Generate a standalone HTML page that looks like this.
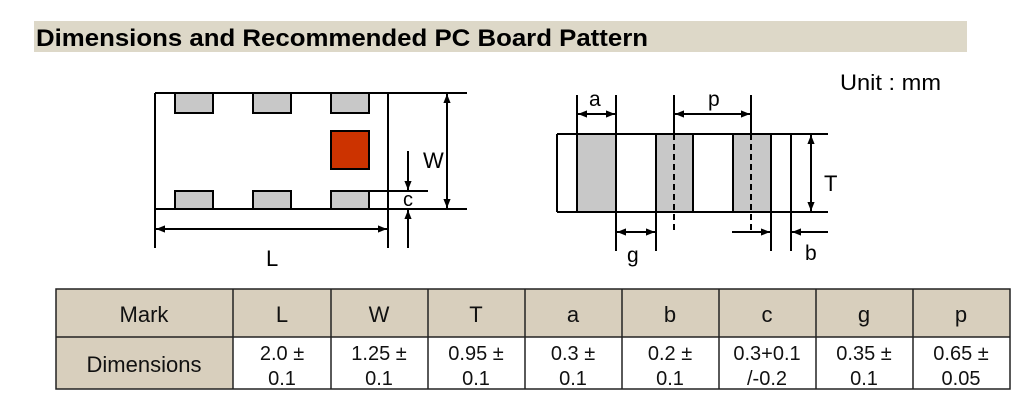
<!DOCTYPE html>
<html><head><meta charset="utf-8"><style>
body{margin:0;background:#fff;width:1024px;height:401px;overflow:hidden}
</style></head><body>
<svg width="1024" height="401" viewBox="0 0 1024 401" xmlns="http://www.w3.org/2000/svg" font-family="Liberation Sans, sans-serif">
<defs>
<marker id="ah" viewBox="0 0 10 10" refX="10" refY="5" markerWidth="9" markerHeight="9" orient="auto-start-reverse" markerUnits="userSpaceOnUse"><path d="M0,1 L10,5 L0,9 z" fill="#000"/></marker>
</defs>
<rect x="34" y="21" width="933" height="31" fill="#ddd8c8"/>
<text x="36" y="46" font-size="24" font-weight="bold" textLength="612" lengthAdjust="spacingAndGlyphs">Dimensions and Recommended PC Board Pattern</text>
<text x="840" y="90" font-size="22" textLength="101" lengthAdjust="spacingAndGlyphs">Unit : mm</text>
<g stroke="#000" stroke-width="2" fill="none">
<line x1="155" y1="93" x2="467" y2="93"/>
<line x1="155" y1="209" x2="467" y2="209"/>
<line x1="155" y1="93" x2="155" y2="248"/>
<line x1="388" y1="93" x2="388" y2="248"/>
<g fill="#c8c8c8">
<rect x="175" y="93" width="38" height="20"/><rect x="253" y="93" width="38" height="20"/><rect x="331" y="93" width="38" height="20"/>
<rect x="175" y="191" width="38" height="18"/><rect x="253" y="191" width="38" height="18"/><rect x="331" y="191" width="38" height="18"/>
</g>
<rect x="331" y="131" width="38" height="38" fill="#cc3300"/>
<line x1="369" y1="191" x2="428" y2="191"/>
<line x1="408" y1="151" x2="408" y2="190" marker-end="url(#ah)"/>
<line x1="408" y1="248" x2="408" y2="210" marker-end="url(#ah)"/>
<line x1="447" y1="94" x2="447" y2="208" marker-start="url(#ah)" marker-end="url(#ah)"/>
<line x1="156" y1="229" x2="387" y2="229" marker-start="url(#ah)" marker-end="url(#ah)"/>
</g>
<text x="423" y="168" font-size="22">W</text>
<text x="403" y="206" font-size="20">c</text>
<text x="266" y="266" font-size="22">L</text>
<g stroke="#000" stroke-width="2" fill="none">
<line x1="557" y1="134" x2="828" y2="134"/>
<line x1="557" y1="212" x2="828" y2="212"/>
<line x1="557" y1="134" x2="557" y2="212"/>
<g fill="#c8c8c8">
<rect x="577" y="134" width="39" height="78"/>
<rect x="656" y="134" width="37" height="78"/>
<rect x="733" y="134" width="38" height="78"/>
</g>
<line x1="577" y1="95" x2="577" y2="134"/>
<line x1="616" y1="95" x2="616" y2="251"/>
<line x1="656" y1="212" x2="656" y2="251"/>
<line x1="771" y1="212" x2="771" y2="251"/>
<line x1="791" y1="134" x2="791" y2="251"/>
<line x1="674" y1="95" x2="674" y2="134"/>
<line x1="751" y1="95" x2="751" y2="134"/>
<line x1="674" y1="134" x2="674" y2="232" stroke-dasharray="6,4"/>
<line x1="751" y1="134" x2="751" y2="232" stroke-dasharray="6,4"/>
<line x1="578" y1="114" x2="615" y2="114" marker-start="url(#ah)" marker-end="url(#ah)"/>
<line x1="675" y1="114" x2="750" y2="114" marker-start="url(#ah)" marker-end="url(#ah)"/>
<line x1="617" y1="232" x2="655" y2="232" marker-start="url(#ah)" marker-end="url(#ah)"/>
<line x1="732" y1="232" x2="770" y2="232" marker-end="url(#ah)"/>
<line x1="828" y1="232" x2="792" y2="232" marker-end="url(#ah)"/>
<line x1="811" y1="135" x2="811" y2="211" marker-start="url(#ah)" marker-end="url(#ah)"/>
</g>
<text x="589" y="106" font-size="21">a</text>
<text x="708" y="106" font-size="21">p</text>
<text x="627" y="262" font-size="21">g</text>
<text x="805" y="260" font-size="21">b</text>
<text x="824" y="191" font-size="22">T</text>
<rect x="56" y="289" width="954" height="48" fill="#d8cfbd"/>
<rect x="56" y="337" width="177" height="52" fill="#d8cfbd"/>
<g stroke="#222" stroke-width="1.5" fill="none">
<rect x="56" y="289" width="954" height="100"/>
<line x1="56" y1="337" x2="1010" y2="337"/>
<line x1="233" y1="289" x2="233" y2="389"/><line x1="331" y1="289" x2="331" y2="389"/>
<line x1="428" y1="289" x2="428" y2="389"/><line x1="525" y1="289" x2="525" y2="389"/>
<line x1="622" y1="289" x2="622" y2="389"/><line x1="719" y1="289" x2="719" y2="389"/>
<line x1="816" y1="289" x2="816" y2="389"/><line x1="913" y1="289" x2="913" y2="389"/>
</g>
<g font-size="22" text-anchor="middle" fill="#111">
<text x="144" y="322">Mark</text><text x="282" y="322">L</text><text x="379" y="322">W</text><text x="476" y="322">T</text>
<text x="573" y="322">a</text><text x="670" y="322">b</text><text x="767" y="322">c</text><text x="864" y="322">g</text><text x="961" y="322">p</text>
<text x="144" y="372">Dimensions</text>
</g>
<g font-size="20" text-anchor="middle" fill="#111">
<text x="282" y="360">2.0 ±</text><text x="282" y="385">0.1</text>
<text x="379" y="360">1.25 ±</text><text x="379" y="385">0.1</text>
<text x="476" y="360">0.95 ±</text><text x="476" y="385">0.1</text>
<text x="573" y="360">0.3 ±</text><text x="573" y="385">0.1</text>
<text x="670" y="360">0.2 ±</text><text x="670" y="385">0.1</text>
<text x="767" y="360">0.3+0.1</text><text x="767" y="385">/-0.2</text>
<text x="864" y="360">0.35 ±</text><text x="864" y="385">0.1</text>
<text x="961" y="360">0.65 ±</text><text x="961" y="385">0.05</text>
</g>
</svg>
</body></html>
